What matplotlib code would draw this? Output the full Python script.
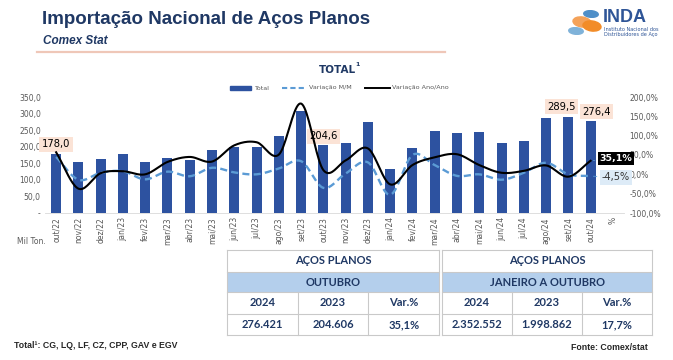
import numpy as np
import matplotlib
matplotlib.use("Agg")
import matplotlib.pyplot as plt
from matplotlib.patches import Rectangle, Ellipse
from matplotlib.lines import Line2D

# ---------------- data ----------------
months = ["out/22", "nov/22", "dez/22", "jan/23", "fev/23", "mar/23", "abr/23", "mai/23",
          "jun/23", "jul/23", "ago/23", "set/23", "out/23", "nov/23", "dez/23", "jan/24",
          "fev/24", "mar/24", "abr/24", "mai/24", "jun/24", "jul/24", "ago/24", "set/24", "out/24"]
total = [178.0, 155, 164, 177, 153, 165, 160, 189, 200, 200, 231, 309, 204.6, 210, 276, 132,
         196, 247, 242, 244, 210, 218, 287, 289.5, 276.4]
var_mm = [45, -14, 4, 8, -13, 7, -5, 17, 5, 0, 15, 34, -35, 2, 31, -53, 50, 24, -4, 0, -14, 4,
          30, 0, -4.5]
var_aa = [57, -37, 3, 8, 0, 32, 45, 33, 75, 83, 51, 183, 11, 36, 67, -26, 24, 44, 52, 24, 4, 9,
          23, -6, 35.1]
extra_cat = "%"
left_ticks = [0, 50, 100, 150, 200, 250, 300, 350]
right_ticks = [-100, -50, 0, 50, 100, 150, 200]
labelled_bars = [0, 12, 23, 24]

title = "Importação Nacional de Aços Planos"
subtitle = "Comex Stat"
chart_title = "TOTAL"
tab_left_head = ["AÇOS PLANOS", "OUTUBRO"]
tab_right_head = ["AÇOS PLANOS", "JANEIRO A OUTUBRO"]
tab_cols = ["2024", "2023", "Var.%"]
tab_left_vals = ["276.421", "204.606", "35,1%"]
tab_right_vals = ["2.352.552", "1.998.862", "17,7%"]

# ---------------- helpers ----------------
W, H = 673, 360
fig = plt.figure(figsize=(W / 100, H / 100), dpi=100)
fig.patch.set_facecolor("white")


def fx(x):
    return x / W


def fy(y):
    return 1 - y / H


def br(v, dec=1):
    s = f"{v:,.{dec}f}"
    return s.replace(",", "X").replace(".", ",").replace("X", ".")


def smooth(x, y, n=20):
    x = np.asarray(x, float)
    y = np.asarray(y, float)
    px = np.concatenate([[2 * x[0] - x[1]], x, [2 * x[-1] - x[-2]]])
    py = np.concatenate([[2 * y[0] - y[1]], y, [2 * y[-1] - y[-2]]])
    xs, ys = [], []
    t = np.linspace(0, 1, n, endpoint=False)
    for i in range(1, len(px) - 2):
        for arr, a in ((ys, py), (xs, px)):
            a0, a1, a2, a3 = a[i - 1], a[i], a[i + 1], a[i + 2]
            arr.extend(0.5 * ((2 * a1) + (-a0 + a2) * t + (2 * a0 - 5 * a1 + 4 * a2 - a3) * t ** 2
                              + (-a0 + 3 * a1 - 3 * a2 + a3) * t ** 3))
    xs.append(x[-1])
    ys.append(y[-1])
    return np.array(xs), np.array(ys)


NAVY = "#1F3864"
BAR = "#2D52A0"
LBLUE = "#5B9BD5"
GREY = "#595959"
SALMON = "#FBE3D6"

# ---------------- header ----------------
fig.text(fx(42), fy(19), title, fontsize=13.5, fontweight="bold", color=NAVY,
         family="Liberation Sans", va="center", ha="left")
fig.text(fx(43), fy(41), subtitle, fontsize=8.5, fontweight="bold", style="italic", color=NAVY,
         family="Liberation Sans", va="center", ha="left")
fig.add_artist(Line2D([fx(37), fx(445)], [fy(52), fy(52)], color="#EFC7B8", lw=1.6))

# logo
fig.add_artist(Ellipse((fx(582), fy(22)), 0.025, 0.03, angle=35, color="#F4A259"))
fig.add_artist(Ellipse((fx(592), fy(26)), 0.025, 0.03, angle=35, color="#F28C28"))
fig.add_artist(Ellipse((fx(576), fy(31)), 0.022, 0.018, angle=-20, color="#7FB2D9"))
fig.add_artist(Ellipse((fx(591), fy(14)), 0.022, 0.018, angle=-20, color="#4F8FC8"))
fig.text(fx(603), fy(17), "INDA", fontsize=13, fontweight="bold", color="#2F5597",
         family="Liberation Sans", va="center", ha="left")
fig.text(fx(604), fy(32), "Instituto Nacional dos\nDistribuidores de Aço", fontsize=3.6,
         color="#2F5597", va="center", ha="left", linespacing=1.0)

# ---------------- chart ----------------
n = len(months)
x = np.arange(n)
ax = fig.add_axes([fx(45), fy(213), fx(624) - fx(45), fy(97) - fy(213)])
ax.bar(x, total, width=0.45, color=BAR, zorder=2)
ax.set_xlim(-0.5, n + 0.5)
ax.set_ylim(0, 350)
ax.set_yticks(left_ticks)
ax.set_yticklabels(["-" if v == 0 else br(v) for v in left_ticks], fontsize=5.5, color=GREY)
ax.set_xticks(list(x) + [n])
ax.set_xticklabels(months + [extra_cat], rotation=90, fontsize=5.5, color=GREY)
ax.tick_params(length=0, pad=3)
for s in ["top", "right", "left"]:
    ax.spines[s].set_visible(False)
ax.spines["bottom"].set_color("#D9D9D9")
ax.spines["bottom"].set_linewidth(0.6)

ax2 = ax.twinx()
ax2.set_ylim(-100, 200)
ax2.set_yticks(right_ticks)
ax2.set_yticklabels([br(v) + "%" for v in right_ticks], fontsize=5.5, color=GREY)
ax2.tick_params(length=0, pad=4)
for s in ax2.spines.values():
    s.set_visible(False)

sx, sy = smooth(x, var_mm)
ax2.plot(sx, sy, color=LBLUE, lw=1.7, ls=(0, (3, 1.8)), zorder=3)
sx, sy = smooth(x, var_aa)
ax2.plot(sx, sy, color="black", lw=1.5, zorder=4)

# bar labels (label offsets in data units: (dx categories, y level))
label_pos = {0: (0.0, 208), 12: (0.0, 232), 23: (-0.3, 320), 24: (0.26, 305)}
for i in labelled_bars:
    dx, yy = label_pos[i]
    ax.text(x[i] + dx, yy, br(total[i]), ha="center", va="center", fontsize=7.2,
            color="black", zorder=6,
            bbox=dict(boxstyle="square,pad=0.25", fc=SALMON, ec="none"))

# end labels for lines
ax2.annotate(br(var_aa[-1]) + "%", xy=(x[-1], var_aa[-1]), xytext=(24.4, 41),
             textcoords="data", ha="left", va="center", fontsize=6.8, fontweight="bold",
             color="white", zorder=8,
             bbox=dict(boxstyle="square,pad=0.2", fc="black", ec="none"),
             arrowprops=dict(arrowstyle="-", color=LBLUE, lw=0.6))
ax2.annotate(br(var_mm[-1]) + "%", xy=(x[-1], var_mm[-1]), xytext=(24.5, -8),
             textcoords="data", ha="left", va="center", fontsize=7, color="#333333",
             zorder=8,
             bbox=dict(boxstyle="square,pad=0.22", fc="#DDEBF7", ec="none"),
             arrowprops=dict(arrowstyle="-", color=LBLUE, lw=0.6))

# chart title & legend
fig.text(fx(337), fy(70), chart_title, fontsize=7.5, fontweight="bold", color=NAVY,
         ha="center", va="center")
fig.text(fx(357), fy(65), "1", fontsize=4.5, fontweight="bold", color=NAVY,
         ha="center", va="center")
fig.add_artist(Rectangle((fx(230), fy(90)), fx(251) - fx(230), fy(86) - fy(90), color=BAR))
fig.text(fx(254), fy(88), "Total", fontsize=4.6, color=GREY, va="center")
fig.add_artist(Line2D([fx(282), fx(306)], [fy(88), fy(88)], color=LBLUE, lw=1.5,
                      ls=(0, (2.5, 1.5))))
fig.text(fx(309), fy(88), "Variação M/M", fontsize=4.6, color=GREY, va="center")
fig.add_artist(Line2D([fx(365), fx(390)], [fy(88), fy(88)], color="black", lw=1.4))
fig.text(fx(392), fy(88), "Variação Ano/Ano", fontsize=4.6, color=GREY, va="center")

fig.text(fx(17), fy(241), "Mil Ton.", fontsize=5.5, color=GREY, va="center")

# ---------------- tables ----------------
rows_y = [250, 272, 292, 314, 335]


def draw_table(x0, x1, heads, cols, vals):
    bc = "#C9C9C9"
    fig.add_artist(Rectangle((fx(x0), fy(rows_y[2])), fx(x1) - fx(x0), fy(rows_y[1]) - fy(rows_y[2]),
                             color="#B4CFEC", lw=0))
    for yy in rows_y:
        fig.add_artist(Line2D([fx(x0), fx(x1)], [fy(yy), fy(yy)], color=bc, lw=0.8))
    fig.add_artist(Line2D([fx(x0), fx(x0)], [fy(rows_y[0]), fy(rows_y[-1])], color=bc, lw=0.8))
    fig.add_artist(Line2D([fx(x1), fx(x1)], [fy(rows_y[0]), fy(rows_y[-1])], color=bc, lw=0.8))
    w = (x1 - x0) / 3
    for k in (1, 2):
        xx = x0 + k * w
        fig.add_artist(Line2D([fx(xx), fx(xx)], [fy(rows_y[2]), fy(rows_y[-1])], color=bc, lw=0.8))
    xm = (x0 + x1) / 2
    for r, t in enumerate(heads):
        fig.text(fx(xm), fy((rows_y[r] + rows_y[r + 1]) / 2), t, ha="center", va="center",
                 fontsize=8, fontweight="bold", color=NAVY, family="Lato")
    for k in range(3):
        cx = x0 + (k + 0.5) * w
        fig.text(fx(cx), fy((rows_y[2] + rows_y[3]) / 2), cols[k], ha="center", va="center",
                 fontsize=8, fontweight="bold", color=NAVY, family="Lato")
        fig.text(fx(cx), fy((rows_y[3] + rows_y[4]) / 2), vals[k], ha="center", va="center",
                 fontsize=8, fontweight="bold", color=NAVY, family="Lato")


draw_table(227, 439, tab_left_head, tab_cols, tab_left_vals)
draw_table(442, 652, tab_right_head, tab_cols, tab_right_vals)

# ---------------- footer ----------------
fig.text(fx(14), fy(345), "Total¹: CG, LQ, LF, CZ, CPP, GAV e EGV", fontsize=6.3,
         fontweight="bold", color="#262626", family="Liberation Sans", va="center")
fig.text(fx(648), fy(348), "Fonte: Comex/stat", fontsize=6.3, fontweight="bold",
         color="#262626", family="Liberation Sans", va="center", ha="right")

fig.savefig("out.png", dpi=100, facecolor="white")
